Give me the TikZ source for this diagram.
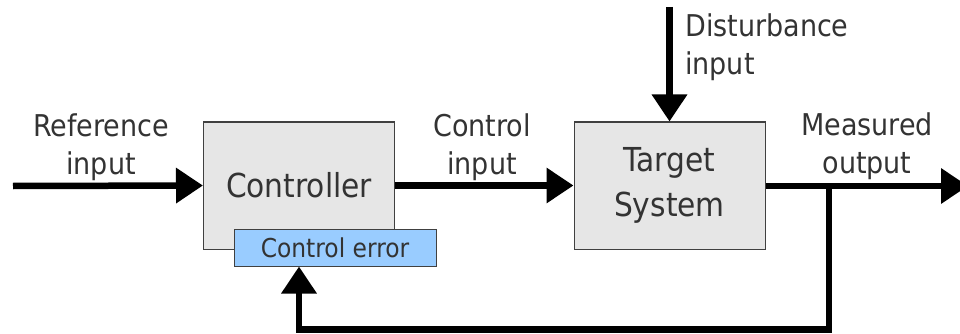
\documentclass[tikz,border=0pt]{standalone}
\usepackage{fontspec}
\setmainfont{DejaVu Sans Condensed}
\usetikzlibrary{arrows.meta}
\definecolor{txtgray}{HTML}{333333}
\definecolor{boxgray}{HTML}{E6E6E6}
\definecolor{boxedge}{HTML}{404040}
\definecolor{errblue}{HTML}{99CCFF}
\begin{document}
\begin{tikzpicture}[x=1pt,y=-1pt,
  block/.style={draw=boxedge,line width=1pt,fill=boxgray,minimum width=191pt,minimum height=127pt,inner sep=0pt,text=txtgray,font=\fontsize{33}{45}\selectfont,align=center},
  errbox/.style={draw=boxedge,line width=1pt,fill=errblue,minimum width=202pt,minimum height=37pt,inner sep=0pt,text=txtgray,font=\fontsize{26}{30}\selectfont},
  lbl/.style={inner sep=0pt,text=txtgray,font=\fontsize{30}{38}\selectfont,anchor=north},
  flow/.style={line width=6.5pt,line join=miter,-{Triangle[length=27pt,width=34pt]}}]
\useasboundingbox (0,0) rectangle (960,334);
\node[block] (ctrl) at (299,185.5) {Controller};
\node[errbox] (err) at (335,247.5) {Control error};
\node[block] (tgt) at (669.5,185.5) {Target\\System};
\coordinate (refstart) at (13,186);
\coordinate (disttop) at (669.5,7);
\coordinate (outend) at (968,186);
\coordinate (br) at (829,186);
\coordinate (bot) at (829,329.5);
\coordinate (fb) at (299,329.5);
\draw[flow] (refstart) -- (ctrl.west);
\draw[flow] (ctrl.east) -- (tgt.west |- ctrl.east);
\draw[flow] (disttop) -- (tgt.north);
\draw[flow] (tgt.east |- br) -- (outend);
\draw[flow] (br) -- (bot) -- (fb) -- (fb |- err.south);
\node[lbl,align=center] (refl) at (101,114) {Reference\\input};
\node[lbl,align=center] (cil) at (482,114) {Control\\input};
\node[lbl,align=center] (mol) at (867,113) {Measured\\output};
\node[lbl,align=left,anchor=north west] (dil) at (685,14) {Disturbance\\input};
\end{tikzpicture}
\end{document}
